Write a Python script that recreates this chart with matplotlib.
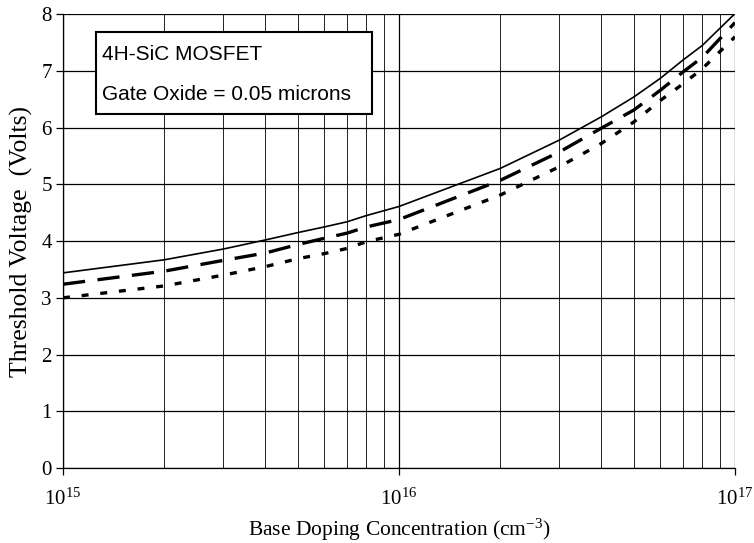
import matplotlib
matplotlib.use("Agg")
import matplotlib.pyplot as plt
from matplotlib.ticker import LogLocator, NullFormatter, FixedLocator
from matplotlib.patches import Rectangle

plt.rcParams['lines.scale_dashes'] = False
plt.rcParams['mathtext.fontset'] = 'custom'
plt.rcParams['mathtext.rm'] = 'Liberation Serif'
plt.rcParams['mathtext.it'] = 'Liberation Serif:italic'

doping = [1e15, 2e15, 3e15, 4e15, 5e15, 6e15, 7e15, 8e15, 1e16,
          2e16, 3e16, 4e16, 5e16, 6e16, 7e16, 8e16, 1e17]
vt_solid = [3.44, 3.67, 3.86, 4.02, 4.15, 4.25, 4.34, 4.45, 4.61,
            5.28, 5.78, 6.19, 6.54, 6.87, 7.19, 7.45, 8.01]
vt_dashed = [3.24, 3.47, 3.66, 3.79, 3.94, 4.05, 4.14, 4.25, 4.38,
             5.07, 5.57, 5.99, 6.31, 6.66, 6.98, 7.24, 7.85]
vt_dotted = [3.00, 3.21, 3.40, 3.55, 3.69, 3.78, 3.87, 3.99, 4.12,
             4.81, 5.31, 5.72, 6.10, 6.48, 6.77, 7.04, 7.60]

xticks = [1e15, 1e16, 1e17]
xtick_labels = ['$10^{15}$', '$10^{16}$', '$10^{17}$']
yticks = [0, 1, 2, 3, 4, 5, 6, 7, 8]
box_lines = ['4H-SiC MOSFET', 'Gate Oxide = 0.05 microns']

fig = plt.figure(figsize=(7.54, 5.43), dpi=100)
ax = fig.add_axes([0.0836, 0.138, 0.8912, 0.836])

ax.set_xscale('log')
ax.set_xlim(1e15, 1e17)
ax.set_ylim(0, 8)

ax.xaxis.set_major_locator(FixedLocator(xticks))
ax.set_xticklabels(xtick_labels)
ax.xaxis.set_minor_locator(LogLocator(base=10, subs=range(2, 10)))
ax.xaxis.set_minor_formatter(NullFormatter())
ax.set_yticks(yticks)

ax.grid(True, which='major', axis='both', color='black', linewidth=0.9)
ax.grid(True, which='minor', axis='x', color='#222222', linewidth=0.7)
ax.set_axisbelow(True)

for s in ['top', 'right']:
    ax.spines[s].set_visible(False)
ax.spines['left'].set_linewidth(0.9)
ax.spines['bottom'].set_linewidth(0.9)

ax.tick_params(axis='x', which='minor', length=0)
ax.tick_params(axis='x', which='major', length=5, width=0.9, direction='out', pad=9)
ax.tick_params(axis='y', which='major', length=5, width=0.9, direction='out', pad=3)
for lab in ax.get_yticklabels():
    lab.set_fontfamily('Liberation Serif')
    lab.set_fontsize(15)
for lab in ax.get_xticklabels():
    lab.set_fontsize(15)

ax.plot(doping, vt_solid, color='black', linewidth=1.2, linestyle='-')
ax.plot(doping, vt_dashed, color='black', linewidth=2.4, linestyle=(0, (16, 9)))
ax.plot(doping, vt_dotted, color='black', linewidth=2.4, linestyle=(0, (5, 8.5)))

ax.set_xlabel('Base Doping Concentration (cm$^{-3}$)', fontfamily='Liberation Serif',
              fontsize=15.5, labelpad=6)
ax.set_ylabel('Threshold Voltage  (Volts)', fontfamily='Liberation Serif',
              fontsize=18.5, labelpad=6)

ax.add_patch(Rectangle((0.049, 0.780), 0.411, 0.180, transform=ax.transAxes,
                       facecolor='white', edgecolor='black', linewidth=1.5,
                       zorder=5))
ax.text(0.058, 0.910, box_lines[0], transform=ax.transAxes,
        fontfamily='Liberation Sans', fontsize=15, va='center', ha='left', zorder=6)
ax.text(0.058, 0.822, box_lines[1], transform=ax.transAxes,
        fontfamily='Liberation Sans', fontsize=15, va='center', ha='left', zorder=6)

fig.savefig('out.png', dpi=100)
